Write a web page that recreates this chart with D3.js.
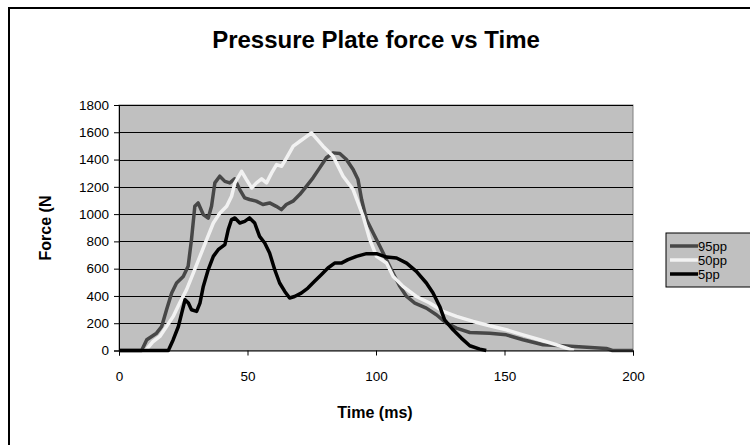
<!DOCTYPE html>
<html>
<head>
<meta charset="utf-8">
<script src="https://cdn.jsdelivr.net/npm/d3@7"></script>
<style>
  body { margin: 0; background: #fff; }
  svg { display: block; font-family: "Liberation Sans", Arial, sans-serif; }
</style>
</head>
<body>
<svg id="chart" width="750" height="445"></svg>
<script>
// time (ms) and force (N)
const t95 = [0, 8.8, 10.8, 12.7, 14.6, 16.6, 18.5, 20.5, 22.4, 25, 26.9, 28.2, 29.5, 30.8, 32.8, 34.7, 36, 37.3, 39.2, 41.2, 43.1, 45, 47, 48.9, 50.8, 53.4, 56, 58.6, 61.2, 63.2, 65.1, 67.7, 70.3, 72.9, 75.5, 78.1, 80.7, 83.3, 85.9, 88.5, 91.1, 93, 94.4, 96.3, 98.9, 101.5, 104.7, 107.3, 109.3, 111.9, 115.1, 119.6, 123.5, 127.4, 131.3, 136.5, 144.2, 150.7, 157.2, 165, 172.7, 180.5, 189.6, 192, 200];
const f95 = [0, 0, 79, 103, 127, 176, 299, 421, 495, 543, 617, 813, 1057, 1082, 996, 970, 1057, 1229, 1278, 1240, 1229, 1258, 1180, 1119, 1107, 1095, 1070, 1082, 1057, 1033, 1070, 1095, 1143, 1204, 1266, 1339, 1413, 1449, 1445, 1400, 1327, 1253, 1107, 960, 862, 764, 641, 543, 470, 396, 348, 311, 262, 201, 164, 132, 127, 115, 79, 42, 35, 25, 15, 0, 0];

const t50 = [10.1, 10.8, 13.3, 15.9, 18.5, 21.1, 23.6, 26.3, 28.9, 31.5, 34.1, 36.7, 39.3, 41.9, 43.8, 45.1, 47.7, 49.6, 51.6, 53.5, 55.5, 57.4, 59.4, 61.3, 63.3, 65.2, 67.8, 70.4, 74.9, 79.4, 83.3, 87.2, 91.1, 95, 97.6, 100.2, 104.1, 106.7, 110.5, 115.7, 120.9, 126.1, 131.3, 137.8, 144.2, 150.7, 157.2, 163.7, 170.2, 175.3, 177];
const f50 = [0, 10, 66, 103, 176, 250, 348, 446, 568, 690, 813, 935, 1009, 1057, 1131, 1229, 1314, 1253, 1192, 1229, 1258, 1229, 1302, 1363, 1351, 1413, 1498, 1534, 1596, 1498, 1424, 1278, 1180, 984, 813, 690, 641, 543, 470, 396, 348, 287, 250, 213, 181, 152, 115, 79, 42, 10, 0];

const t5 = [0, 19.2, 21.1, 23.1, 24.4, 25.7, 27, 28.2, 30.2, 31.5, 32.8, 34.7, 36.7, 38.6, 41.2, 42.5, 43.8, 45.1, 47, 48.9, 50.8, 52.8, 54.7, 56.7, 58.6, 60.6, 62.5, 64.5, 66.4, 68.3, 70.9, 73.5, 76.1, 78.7, 81.3, 83.9, 86.5, 89.1, 92.4, 96.3, 100.2, 104.1, 108, 111.9, 115.7, 119.6, 122.2, 124.8, 126.7, 130, 133.2, 136.5, 140.4, 142.9];
const f5 = [0, 0, 79, 176, 274, 372, 348, 299, 287, 348, 470, 592, 690, 739, 776, 886, 960, 972, 935, 947, 972, 935, 837, 788, 715, 592, 495, 433, 385, 396, 421, 458, 507, 556, 605, 641, 641, 666, 690, 710, 710, 685, 678, 641, 580, 495, 421, 323, 225, 152, 91, 35, 10, 0];

const seriesNames = ["95pp", "50pp", "5pp"];
const seriesColors = ["#474747", "#f2f2f2", "#000000"];
const xTicks = [0, 50, 100, 150, 200];
const yTicks = [0, 200, 400, 600, 800, 1000, 1200, 1400, 1600, 1800];

const series = seriesNames.map((name, i) => {
  const ts = [t95, t50, t5][i], fs = [f95, f50, f5][i];
  return { name, color: seriesColors[i], values: ts.map((t, j) => ({ t, f: fs[j] })) };
});

const svg = d3.select("#chart");
const plot = { left: 119, top: 105, right: 633, bottom: 350.5 };

const x = d3.scaleLinear().domain([0, 200]).range([plot.left, plot.right]);
const y = d3.scaleLinear().domain([0, 1800]).range([plot.bottom, plot.top]);

// chart frame
svg.append("rect")
  .attr("x", 9).attr("y", 8)
  .attr("width", 760).attr("height", 460)
  .attr("fill", "#fff")
  .attr("stroke", "#000")
  .attr("stroke-width", 2);

svg.append("text")
  .attr("x", 376).attr("y", 48)
  .attr("text-anchor", "middle")
  .attr("font-size", 24).attr("font-weight", "bold")
  .text("Pressure Plate force vs Time");

// plot area
svg.append("rect")
  .attr("x", plot.left).attr("y", plot.top)
  .attr("width", plot.right - plot.left).attr("height", plot.bottom - plot.top)
  .attr("fill", "#c0c0c0")
  .attr("stroke", "#808080");

svg.append("g")
  .selectAll("line")
  .data(yTicks.slice(1))
  .join("line")
  .attr("x1", plot.left).attr("x2", plot.right)
  .attr("y1", d => Math.round(y(d)) + 0.5).attr("y2", d => Math.round(y(d)) + 0.5)
  .attr("stroke", "#000");

const line = d3.line()
  .x(d => x(d.t))
  .y(d => y(d.f));

svg.append("g")
  .selectAll("path")
  .data(series)
  .join("path")
  .attr("fill", "none")
  .attr("stroke", d => d.color)
  .attr("stroke-width", 3.5)
  .attr("stroke-linejoin", "round")
  .attr("d", d => line(d.values));

const xAxis = svg.append("g")
  .attr("transform", `translate(0,${plot.bottom})`)
  .call(d3.axisBottom(x).tickValues(xTicks).tickFormat(d3.format("d")).tickSize(5).tickPadding(16));

const yAxis = svg.append("g")
  .attr("transform", `translate(${plot.left},0)`)
  .call(d3.axisLeft(y).tickValues(yTicks).tickFormat(d3.format("d")).tickSize(5).tickPadding(5));

[xAxis, yAxis].forEach(g => {
  g.selectAll("path, line").attr("stroke", "#000");
  g.selectAll("text").attr("font-size", 13.5).attr("fill", "#000")
    .attr("font-family", "Liberation Sans, Arial, sans-serif");
});

svg.append("text")
  .attr("x", 375).attr("y", 418)
  .attr("text-anchor", "middle")
  .attr("font-size", 16).attr("font-weight", "bold")
  .text("Time (ms)");

svg.append("text")
  .attr("transform", "translate(51,228) rotate(-90)")
  .attr("text-anchor", "middle")
  .attr("font-size", 16).attr("font-weight", "bold")
  .text("Force (N");

// legend
const legend = svg.append("g").attr("transform", "translate(666,233)");
legend.append("rect")
  .attr("width", 100).attr("height", 54)
  .attr("fill", "#c0c0c0").attr("stroke", "#000");

const item = legend.selectAll("g.item")
  .data(series)
  .join("g")
  .attr("class", "item")
  .attr("transform", (d, i) => `translate(0,${13 + i * 14})`);

item.append("line")
  .attr("x1", 4).attr("x2", 32)
  .attr("stroke", d => d.color)
  .attr("stroke-width", 3.5);

item.append("text")
  .attr("x", 32).attr("dy", "0.35em")
  .attr("font-size", 13)
  .text(d => d.name);
</script>
</body>
</html>
